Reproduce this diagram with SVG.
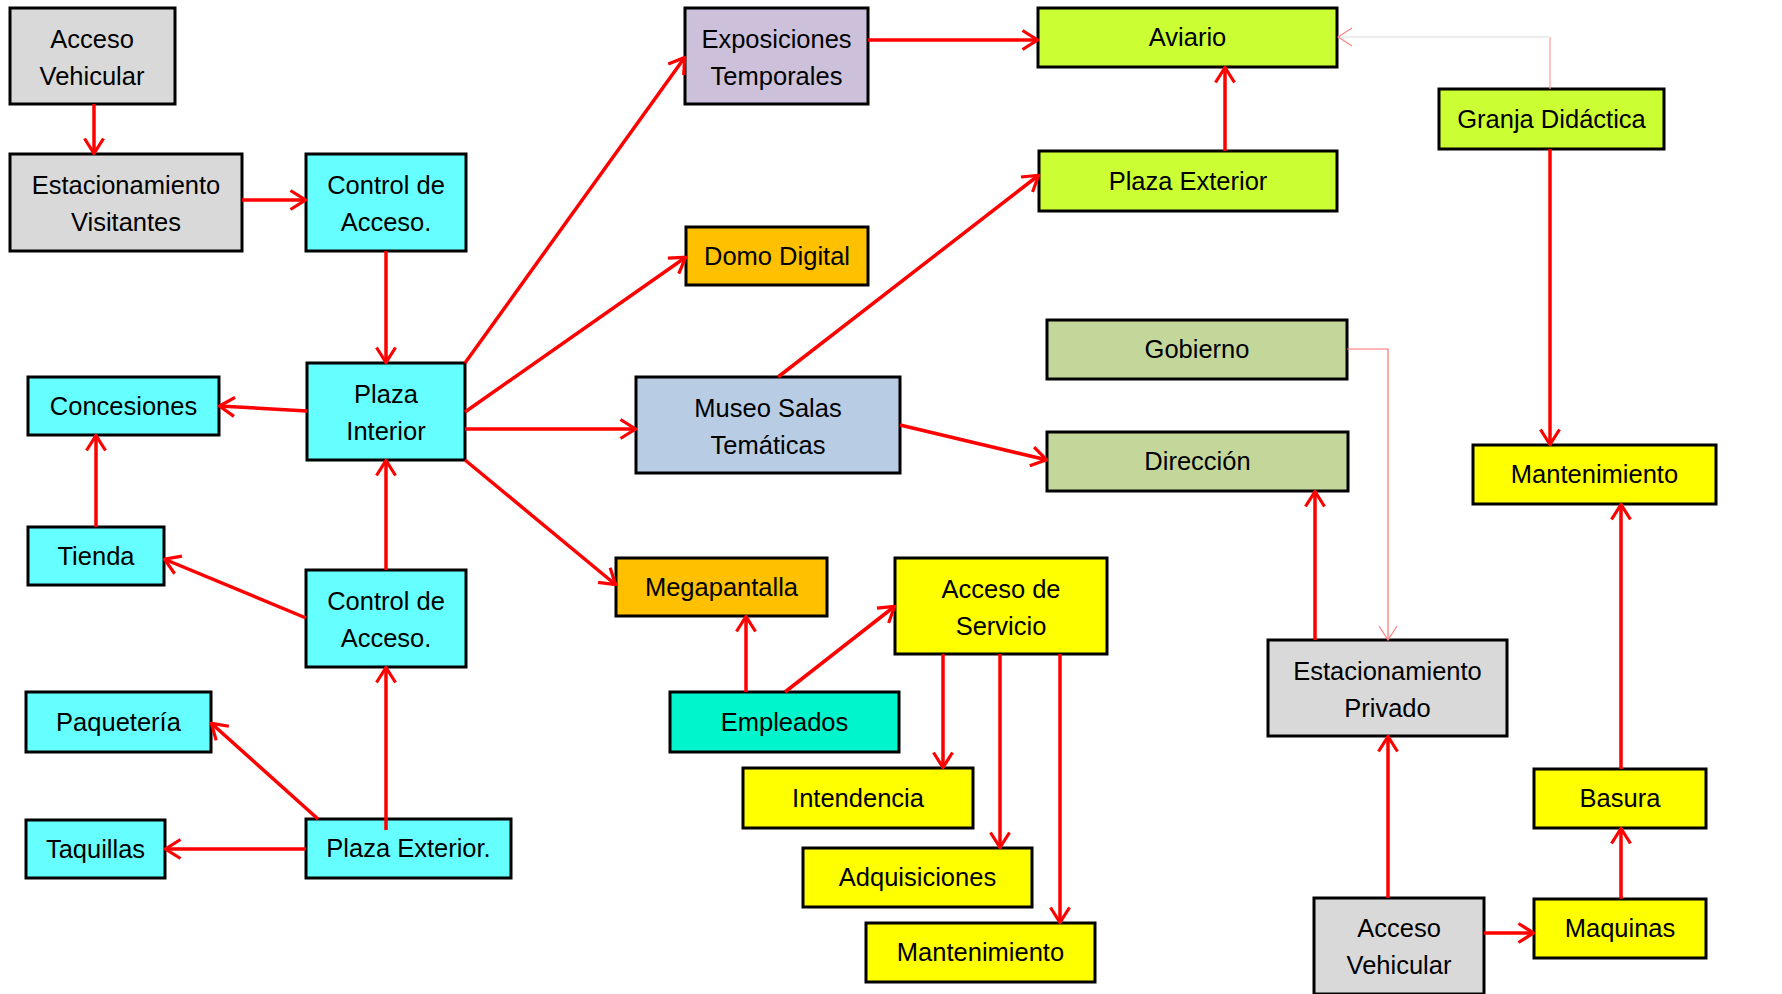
<svg xmlns="http://www.w3.org/2000/svg" width="1782" height="994" viewBox="0 0 1782 994">
<style>
rect.n{stroke:#000;stroke-width:3}
.gray{fill:#d9d9d9}.cyan{fill:#66ffff}.lilac{fill:#ccc0da}.orange{fill:#ffc000}.blue{fill:#b8cce4}
.lime{fill:#ccff33}.olive{fill:#c4d79b}.yellow{fill:#ffff00}.teal{fill:#00f5cc}
text{font-family:"Liberation Sans",Arial,sans-serif;font-size:25.5px;fill:#000;text-anchor:middle}
.c{stroke:#ff0000;stroke-width:3.5;fill:none;marker-end:url(#ah)}
.t{stroke:#ff7070;stroke-width:1.2;fill:none}
</style>
<defs>
<marker id="ah" viewBox="0 0 18 22" refX="17" refY="11" markerWidth="18" markerHeight="22" markerUnits="userSpaceOnUse" orient="auto">
<path d="M1.5,1.5 L16.5,11 L1.5,20.5" stroke="#ff0000" stroke-width="3.2" fill="none"/>
</marker>
<marker id="ahl" viewBox="0 0 16 20" refX="15" refY="10" markerWidth="16" markerHeight="20" markerUnits="userSpaceOnUse" orient="auto">
<path d="M1,1 L15,10 L1,19" stroke="#ff8080" stroke-width="1.2" fill="none"/>
</marker>
</defs>
<rect width="1782" height="994" fill="#fff"/>
<g id="nodes">
<g id="n_acceso_vehicular_1"><rect class="n gray" x="10" y="8" width="165" height="96"/><text x="92" y="48">Acceso</text><text x="92" y="85">Vehicular</text></g>
<g id="n_estacionamiento_visitantes"><rect class="n gray" x="10" y="154" width="232" height="97"/><text x="126" y="194">Estacionamiento</text><text x="126" y="231">Visitantes</text></g>
<g id="n_control_acceso_1"><rect class="n cyan" x="306" y="154" width="160" height="97"/><text x="386" y="194">Control de</text><text x="386" y="231">Acceso.</text></g>
<g id="n_plaza_interior"><rect class="n cyan" x="307" y="363" width="158" height="97"/><text x="386" y="403">Plaza</text><text x="386" y="440">Interior</text></g>
<g id="n_concesiones"><rect class="n cyan" x="28" y="377" width="191" height="58"/><text x="123.5" y="415">Concesiones</text></g>
<g id="n_tienda"><rect class="n cyan" x="28" y="527" width="136" height="58"/><text x="96" y="565">Tienda</text></g>
<g id="n_control_acceso_2"><rect class="n cyan" x="306" y="570" width="160" height="97"/><text x="386" y="610">Control de</text><text x="386" y="647">Acceso.</text></g>
<g id="n_paqueteria"><rect class="n cyan" x="26" y="692" width="185" height="60"/><text x="118.5" y="731">Paquetería</text></g>
<g id="n_taquillas"><rect class="n cyan" x="26" y="820" width="139" height="58"/><text x="95.5" y="858">Taquillas</text></g>
<g id="n_plaza_exterior_1"><rect class="n cyan" x="306" y="819" width="205" height="59"/><text x="408.5" y="857">Plaza Exterior.</text></g>
<g id="n_exposiciones"><rect class="n lilac" x="685" y="8" width="183" height="96"/><text x="776.5" y="48">Exposiciones</text><text x="776.5" y="85">Temporales</text></g>
<g id="n_domo"><rect class="n orange" x="686" y="227" width="182" height="58"/><text x="777" y="265">Domo Digital</text></g>
<g id="n_museo"><rect class="n blue" x="636" y="377" width="264" height="96"/><text x="768" y="417">Museo Salas</text><text x="768" y="454">Temáticas</text></g>
<g id="n_megapantalla"><rect class="n orange" x="616" y="558" width="211" height="58"/><text x="721.5" y="596">Megapantalla</text></g>
<g id="n_empleados"><rect class="n teal" x="670" y="692" width="229" height="60"/><text x="784.5" y="731">Empleados</text></g>
<g id="n_acceso_servicio"><rect class="n yellow" x="895" y="558" width="212" height="96"/><text x="1001" y="598">Acceso de</text><text x="1001" y="635">Servicio</text></g>
<g id="n_intendencia"><rect class="n yellow" x="743" y="768" width="230" height="60"/><text x="858" y="807">Intendencia</text></g>
<g id="n_adquisiciones"><rect class="n yellow" x="803" y="848" width="229" height="59"/><text x="917.5" y="886">Adquisiciones</text></g>
<g id="n_mantenimiento_1"><rect class="n yellow" x="866" y="923" width="229" height="59"/><text x="980.5" y="961">Mantenimiento</text></g>
<g id="n_aviario"><rect class="n lime" x="1038" y="8" width="299" height="59"/><text x="1187.5" y="46">Aviario</text></g>
<g id="n_plaza_exterior_2"><rect class="n lime" x="1039" y="151" width="298" height="60"/><text x="1188" y="190">Plaza Exterior</text></g>
<g id="n_gobierno"><rect class="n olive" x="1047" y="320" width="300" height="59"/><text x="1197" y="358">Gobierno</text></g>
<g id="n_direccion"><rect class="n olive" x="1047" y="432" width="301" height="59"/><text x="1197.5" y="470">Dirección</text></g>
<g id="n_granja"><rect class="n lime" x="1439" y="89" width="225" height="60"/><text x="1551.5" y="128">Granja Didáctica</text></g>
<g id="n_mantenimiento_2"><rect class="n yellow" x="1473" y="445" width="243" height="59"/><text x="1594.5" y="483">Mantenimiento</text></g>
<g id="n_estacionamiento_privado"><rect class="n gray" x="1268" y="640" width="239" height="96"/><text x="1387.5" y="680">Estacionamiento</text><text x="1387.5" y="717">Privado</text></g>
<g id="n_acceso_vehicular_2"><rect class="n gray" x="1314" y="898" width="170" height="96"/><text x="1399" y="937">Acceso</text><text x="1399" y="974">Vehicular</text></g>
<g id="n_basura"><rect class="n yellow" x="1534" y="769" width="172" height="59"/><text x="1620" y="807">Basura</text></g>
<g id="n_maquinas"><rect class="n yellow" x="1534" y="899" width="172" height="59"/><text x="1620" y="937">Maquinas</text></g>
</g>
<g id="connectors">
<path class="c" d="M94,104 L94,154"/>
<path class="c" d="M242,200 L306,200" stroke-width="4.5"/>
<path class="c" d="M386,251 L386,363"/>
<path class="c" d="M307,411 L219,406"/>
<path class="c" d="M96,527 L96,435"/>
<path class="c" d="M306,618 L164,559"/>
<path class="c" d="M386,570 L386,460"/>
<path class="c" d="M318,819 L211,723"/>
<path class="c" d="M306,849 L165,849"/>
<path class="c" d="M386,830 L386,667"/>
<path class="c" d="M465,363 L685,57"/>
<path class="c" d="M465,412 L686,257"/>
<path class="c" d="M465,429 L636,429"/>
<path class="c" d="M465,460 L616,585"/>
<path class="c" d="M868,40 L1038,40"/>
<path class="c" d="M778,377 L1039,175"/>
<path class="c" d="M900,425 L1047,460"/>
<path class="c" d="M1225,151 L1225,67"/>
<path d="M1550,89 L1550,37" stroke="#ff9999" stroke-width="1.2" fill="none"/>
<path d="M1550,37 L1338,37" stroke="#eeeeee" stroke-width="2.5" fill="none" marker-end="url(#ahl)"/>
<path class="c" d="M1550,149 L1550,445"/>
<path class="t" d="M1347,349 L1388,349 L1388,640" marker-end="url(#ahl)"/>
<path class="c" d="M1315,640 L1315,491"/>
<path class="c" d="M1388,898 L1388,736"/>
<path class="c" d="M1484,933 L1534,933"/>
<path class="c" d="M1621,899 L1621,828"/>
<path class="c" d="M1621,769 L1621,504"/>
<path class="c" d="M746,692 L746,616"/>
<path class="c" d="M785,692 L895,606"/>
<path class="c" d="M943,654 L943,768"/>
<path class="c" d="M1000,654 L1000,848"/>
<path class="c" d="M1060,654 L1060,923"/>
</g>
</svg>
